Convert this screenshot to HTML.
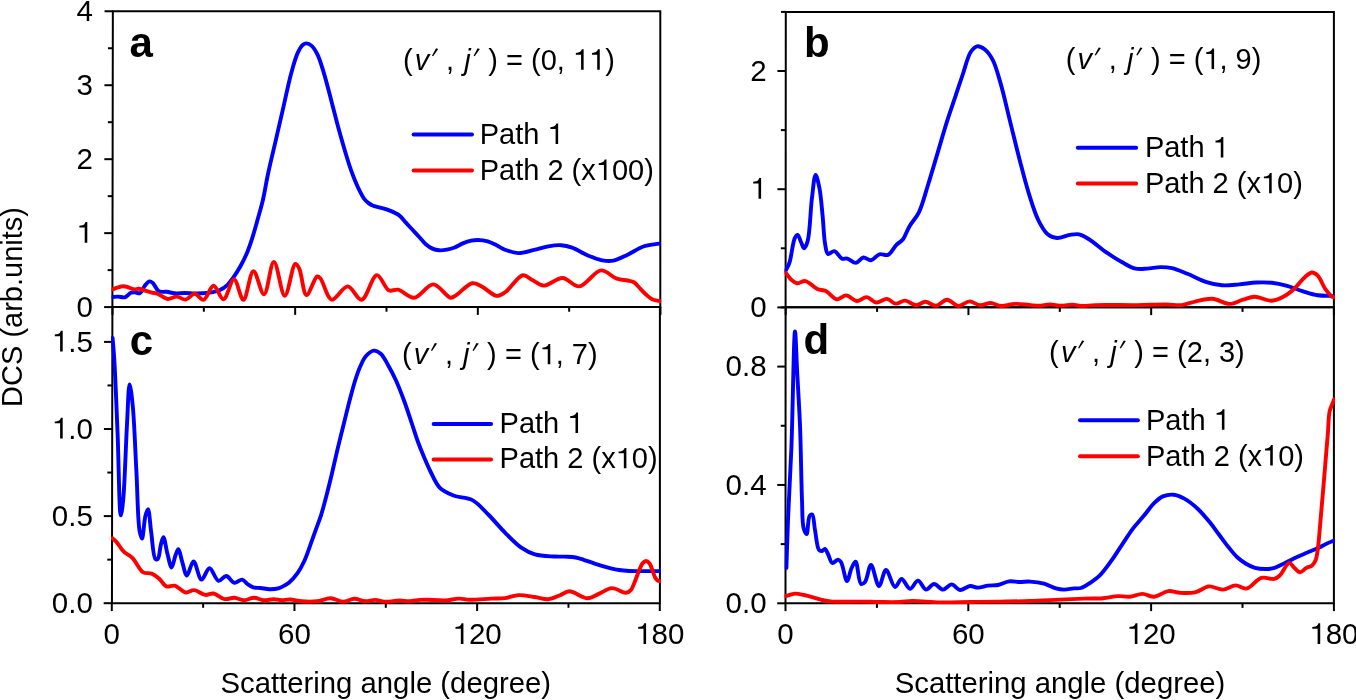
<!DOCTYPE html>
<html><head><meta charset="utf-8"><style>
html,body{margin:0;padding:0;background:#fff;overflow:hidden}
svg{display:block;will-change:transform}
text{font-family:"Liberation Sans",sans-serif;fill:#000;font-kerning:none}
</style></head><body>
<svg width="1356" height="700" viewBox="0 0 1356 700">
<rect width="1356" height="700" fill="#fff"/>
<path d="M112.85,11.25 L660.30,11.25 L660.30,307.10 L112.40,307.10 Z" fill="none" stroke="#000" stroke-width="2.0" stroke-linejoin="miter"/>
<line x1="104.10" y1="307.10" x2="112.40" y2="307.10" stroke="#000" stroke-width="2.0" stroke-linecap="butt"/>
<text x="92.80" y="316.70" text-anchor="end" font-size="29.5" font-weight="normal" >0</text>
<line x1="104.21" y1="233.14" x2="112.51" y2="233.14" stroke="#000" stroke-width="2.0" stroke-linecap="butt"/>
<path d="M87.31,242.74 L87.31,222.00 L85.48,222.00 C85.13,223.86 83.62,225.34 80.82,225.54 L79.37,225.63 L79.37,227.46 L84.71,227.46 L84.71,242.74 Z" fill="#000"/>
<line x1="104.32" y1="159.18" x2="112.62" y2="159.18" stroke="#000" stroke-width="2.0" stroke-linecap="butt"/>
<text x="92.80" y="168.78" text-anchor="end" font-size="29.5" font-weight="normal" >2</text>
<line x1="104.44" y1="85.22" x2="112.74" y2="85.22" stroke="#000" stroke-width="2.0" stroke-linecap="butt"/>
<text x="92.80" y="94.82" text-anchor="end" font-size="29.5" font-weight="normal" >3</text>
<line x1="104.55" y1="11.26" x2="112.85" y2="11.26" stroke="#000" stroke-width="2.0" stroke-linecap="butt"/>
<text x="92.80" y="20.86" text-anchor="end" font-size="29.5" font-weight="normal" >4</text>
<line x1="107.66" y1="270.12" x2="112.46" y2="270.12" stroke="#000" stroke-width="2.0" stroke-linecap="butt"/>
<line x1="107.77" y1="196.16" x2="112.57" y2="196.16" stroke="#000" stroke-width="2.0" stroke-linecap="butt"/>
<line x1="107.88" y1="122.20" x2="112.68" y2="122.20" stroke="#000" stroke-width="2.0" stroke-linecap="butt"/>
<line x1="107.99" y1="48.24" x2="112.79" y2="48.24" stroke="#000" stroke-width="2.0" stroke-linecap="butt"/>
<line x1="112.50" y1="307.10" x2="112.50" y2="314.90" stroke="#000" stroke-width="2.0" stroke-linecap="butt"/>
<line x1="203.83" y1="307.10" x2="203.83" y2="311.70" stroke="#000" stroke-width="2.0" stroke-linecap="butt"/>
<line x1="295.16" y1="307.10" x2="295.16" y2="314.90" stroke="#000" stroke-width="2.0" stroke-linecap="butt"/>
<line x1="386.50" y1="307.10" x2="386.50" y2="311.70" stroke="#000" stroke-width="2.0" stroke-linecap="butt"/>
<line x1="477.83" y1="307.10" x2="477.83" y2="314.90" stroke="#000" stroke-width="2.0" stroke-linecap="butt"/>
<line x1="569.16" y1="307.10" x2="569.16" y2="311.70" stroke="#000" stroke-width="2.0" stroke-linecap="butt"/>
<line x1="660.49" y1="307.10" x2="660.49" y2="314.90" stroke="#000" stroke-width="2.0" stroke-linecap="butt"/>
<path d="M785.80,12.00 L1333.90,12.00 L1333.90,307.30 L785.60,307.30 Z" fill="none" stroke="#000" stroke-width="2.0" stroke-linejoin="miter"/>
<line x1="777.30" y1="307.40" x2="785.60" y2="307.40" stroke="#000" stroke-width="2.0" stroke-linecap="butt"/>
<text x="766.60" y="317.00" text-anchor="end" font-size="29.5" font-weight="normal" >0</text>
<line x1="777.38" y1="189.20" x2="785.68" y2="189.20" stroke="#000" stroke-width="2.0" stroke-linecap="butt"/>
<path d="M761.11,198.80 L761.11,178.06 L759.28,178.06 C758.93,179.92 757.42,181.39 754.62,181.60 L753.17,181.69 L753.17,183.52 L758.51,183.52 L758.51,198.80 Z" fill="#000"/>
<line x1="777.46" y1="71.00" x2="785.76" y2="71.00" stroke="#000" stroke-width="2.0" stroke-linecap="butt"/>
<text x="766.60" y="80.60" text-anchor="end" font-size="29.5" font-weight="normal" >2</text>
<line x1="780.84" y1="248.30" x2="785.64" y2="248.30" stroke="#000" stroke-width="2.0" stroke-linecap="butt"/>
<line x1="780.92" y1="130.10" x2="785.72" y2="130.10" stroke="#000" stroke-width="2.0" stroke-linecap="butt"/>
<line x1="781.00" y1="11.90" x2="785.80" y2="11.90" stroke="#000" stroke-width="2.0" stroke-linecap="butt"/>
<line x1="785.70" y1="307.30" x2="785.70" y2="315.10" stroke="#000" stroke-width="2.0" stroke-linecap="butt"/>
<line x1="877.07" y1="307.30" x2="877.07" y2="311.90" stroke="#000" stroke-width="2.0" stroke-linecap="butt"/>
<line x1="968.44" y1="307.30" x2="968.44" y2="315.10" stroke="#000" stroke-width="2.0" stroke-linecap="butt"/>
<line x1="1059.80" y1="307.30" x2="1059.80" y2="311.90" stroke="#000" stroke-width="2.0" stroke-linecap="butt"/>
<line x1="1151.17" y1="307.30" x2="1151.17" y2="315.10" stroke="#000" stroke-width="2.0" stroke-linecap="butt"/>
<line x1="1242.54" y1="307.30" x2="1242.54" y2="311.90" stroke="#000" stroke-width="2.0" stroke-linecap="butt"/>
<line x1="1333.91" y1="307.30" x2="1333.91" y2="315.10" stroke="#000" stroke-width="2.0" stroke-linecap="butt"/>
<path d="M112.40,307.10 L659.90,307.10 L659.90,603.20 L111.95,603.20 Z" fill="none" stroke="#000" stroke-width="2.0" stroke-linejoin="miter"/>
<line x1="103.65" y1="603.20" x2="111.95" y2="603.20" stroke="#000" stroke-width="2.0" stroke-linecap="butt"/>
<text x="92.80" y="612.80" text-anchor="end" font-size="29.5" font-weight="normal" >0.0</text>
<line x1="103.78" y1="516.10" x2="112.08" y2="516.10" stroke="#000" stroke-width="2.0" stroke-linecap="butt"/>
<text x="92.80" y="525.70" text-anchor="end" font-size="29.5" font-weight="normal" >0.5</text>
<line x1="103.91" y1="429.00" x2="112.21" y2="429.00" stroke="#000" stroke-width="2.0" stroke-linecap="butt"/>
<path d="M62.71,438.60 L62.71,417.86 L60.88,417.86 C60.52,419.72 59.02,421.20 56.22,421.40 L54.77,421.49 L54.77,423.32 L60.11,423.32 L60.11,438.60 Z" fill="#000"/>
<text x="68.20" y="438.60" font-size="29.5" xml:space="preserve">.0</text>
<line x1="104.05" y1="341.90" x2="112.35" y2="341.90" stroke="#000" stroke-width="2.0" stroke-linecap="butt"/>
<path d="M62.71,351.50 L62.71,330.76 L60.88,330.76 C60.52,332.62 59.02,334.10 56.22,334.30 L54.77,334.39 L54.77,336.22 L60.11,336.22 L60.11,351.50 Z" fill="#000"/>
<text x="68.20" y="351.50" font-size="29.5" xml:space="preserve">.5</text>
<line x1="107.22" y1="559.65" x2="112.02" y2="559.65" stroke="#000" stroke-width="2.0" stroke-linecap="butt"/>
<line x1="107.35" y1="472.55" x2="112.15" y2="472.55" stroke="#000" stroke-width="2.0" stroke-linecap="butt"/>
<line x1="107.48" y1="385.45" x2="112.28" y2="385.45" stroke="#000" stroke-width="2.0" stroke-linecap="butt"/>
<line x1="111.80" y1="603.20" x2="111.80" y2="611.00" stroke="#000" stroke-width="2.0" stroke-linecap="butt"/>
<text x="111.80" y="644.00" text-anchor="middle" font-size="29.5" font-weight="normal" >0</text>
<line x1="203.13" y1="603.20" x2="203.13" y2="607.80" stroke="#000" stroke-width="2.0" stroke-linecap="butt"/>
<line x1="294.46" y1="603.20" x2="294.46" y2="611.00" stroke="#000" stroke-width="2.0" stroke-linecap="butt"/>
<text x="294.46" y="644.00" text-anchor="middle" font-size="29.5" font-weight="normal" >60</text>
<line x1="385.80" y1="603.20" x2="385.80" y2="607.80" stroke="#000" stroke-width="2.0" stroke-linecap="butt"/>
<line x1="477.13" y1="603.20" x2="477.13" y2="611.00" stroke="#000" stroke-width="2.0" stroke-linecap="butt"/>
<path d="M463.43,644.00 L463.43,623.26 L461.60,623.26 C461.25,625.12 459.75,626.60 456.94,626.80 L455.50,626.89 L455.50,628.72 L460.84,628.72 L460.84,644.00 Z" fill="#000"/>
<text x="468.92" y="644.00" font-size="29.5" xml:space="preserve">20</text>
<line x1="568.46" y1="603.20" x2="568.46" y2="607.80" stroke="#000" stroke-width="2.0" stroke-linecap="butt"/>
<line x1="659.79" y1="603.20" x2="659.79" y2="611.00" stroke="#000" stroke-width="2.0" stroke-linecap="butt"/>
<path d="M646.10,644.00 L646.10,623.26 L644.27,623.26 C643.91,625.12 642.41,626.60 639.61,626.80 L638.16,626.89 L638.16,628.72 L643.50,628.72 L643.50,644.00 Z" fill="#000"/>
<text x="651.59" y="644.00" font-size="29.5" xml:space="preserve">80</text>
<path d="M785.60,307.30 L1333.90,307.30 L1333.90,603.30 L785.50,603.30 Z" fill="none" stroke="#000" stroke-width="2.0" stroke-linejoin="miter"/>
<line x1="777.20" y1="603.30" x2="785.50" y2="603.30" stroke="#000" stroke-width="2.0" stroke-linecap="butt"/>
<text x="766.60" y="612.90" text-anchor="end" font-size="29.5" font-weight="normal" >0.0</text>
<line x1="777.24" y1="484.94" x2="785.54" y2="484.94" stroke="#000" stroke-width="2.0" stroke-linecap="butt"/>
<text x="766.60" y="494.54" text-anchor="end" font-size="29.5" font-weight="normal" >0.4</text>
<line x1="777.28" y1="366.58" x2="785.58" y2="366.58" stroke="#000" stroke-width="2.0" stroke-linecap="butt"/>
<text x="766.60" y="376.18" text-anchor="end" font-size="29.5" font-weight="normal" >0.8</text>
<line x1="780.72" y1="544.12" x2="785.52" y2="544.12" stroke="#000" stroke-width="2.0" stroke-linecap="butt"/>
<line x1="780.76" y1="425.76" x2="785.56" y2="425.76" stroke="#000" stroke-width="2.0" stroke-linecap="butt"/>
<line x1="780.80" y1="307.40" x2="785.60" y2="307.40" stroke="#000" stroke-width="2.0" stroke-linecap="butt"/>
<line x1="785.50" y1="603.30" x2="785.50" y2="611.10" stroke="#000" stroke-width="2.0" stroke-linecap="butt"/>
<text x="785.50" y="644.00" text-anchor="middle" font-size="29.5" font-weight="normal" >0</text>
<line x1="876.90" y1="603.30" x2="876.90" y2="607.90" stroke="#000" stroke-width="2.0" stroke-linecap="butt"/>
<line x1="968.30" y1="603.30" x2="968.30" y2="611.10" stroke="#000" stroke-width="2.0" stroke-linecap="butt"/>
<text x="968.30" y="644.00" text-anchor="middle" font-size="29.5" font-weight="normal" >60</text>
<line x1="1059.70" y1="603.30" x2="1059.70" y2="607.90" stroke="#000" stroke-width="2.0" stroke-linecap="butt"/>
<line x1="1151.10" y1="603.30" x2="1151.10" y2="611.10" stroke="#000" stroke-width="2.0" stroke-linecap="butt"/>
<path d="M1137.41,644.00 L1137.41,623.26 L1135.58,623.26 C1135.23,625.12 1133.72,626.60 1130.92,626.80 L1129.47,626.89 L1129.47,628.72 L1134.81,628.72 L1134.81,644.00 Z" fill="#000"/>
<text x="1142.90" y="644.00" font-size="29.5" xml:space="preserve">20</text>
<line x1="1242.51" y1="603.30" x2="1242.51" y2="607.90" stroke="#000" stroke-width="2.0" stroke-linecap="butt"/>
<line x1="1333.91" y1="603.30" x2="1333.91" y2="611.10" stroke="#000" stroke-width="2.0" stroke-linecap="butt"/>
<path d="M1320.21,644.00 L1320.21,623.26 L1318.38,623.26 C1318.03,625.12 1316.52,626.60 1313.72,626.80 L1312.28,626.89 L1312.28,628.72 L1317.62,628.72 L1317.62,644.00 Z" fill="#000"/>
<text x="1325.70" y="644.00" font-size="29.5" xml:space="preserve">80</text>
<defs><clipPath id="cpa"><rect x="111.5" y="10" width="549.8" height="298"/></clipPath><clipPath id="cpb"><rect x="784.5" y="11" width="550.5" height="297.3"/></clipPath><clipPath id="cpc"><rect x="111" y="306" width="550" height="298.20000000000005"/></clipPath><clipPath id="cpd"><rect x="784.5" y="306.3" width="550.5" height="297.99999999999994"/></clipPath></defs>
<g clip-path="url(#cpa)">
<path d="M112.60,297.00 C114.40,296.87 116.09,296.57 118.00,296.60 C120.16,296.63 122.78,297.89 124.90,297.30 C127.10,296.69 129.00,293.57 130.90,292.80 C132.29,292.24 133.50,292.25 134.90,292.30 C136.48,292.36 138.42,293.92 139.90,293.30 C141.86,292.48 143.08,287.89 144.80,285.80 C146.24,284.05 147.80,281.68 149.30,281.40 C150.47,281.18 151.62,281.95 152.80,282.90 C154.75,284.47 156.26,289.89 158.80,291.30 C161.02,292.53 164.07,291.47 166.70,291.80 C169.37,292.13 171.87,293.08 174.70,293.30 C177.84,293.54 181.38,292.98 184.70,293.00 C188.01,293.02 191.48,293.36 194.60,293.40 C197.41,293.44 199.86,293.47 202.60,293.30 C205.52,293.12 208.72,292.82 211.60,292.30 C214.34,291.80 216.96,291.45 219.50,290.30 C222.27,289.04 225.16,286.99 227.50,284.80 C229.86,282.60 231.57,279.98 233.60,277.10 C235.97,273.73 238.54,269.55 240.70,265.70 C242.80,261.95 244.61,258.46 246.40,254.30 C248.45,249.54 250.28,244.18 252.10,238.60 C254.13,232.37 256.07,225.15 257.90,218.60 C259.66,212.30 261.33,206.75 262.90,200.00 C264.74,192.09 266.04,183.19 268.00,174.00 C270.23,163.55 273.14,151.74 275.70,140.60 C278.27,129.44 280.83,118.26 283.40,107.10 C285.96,95.96 288.44,83.45 291.10,73.70 C293.21,65.96 295.21,58.30 297.60,53.10 C299.20,49.62 300.83,46.44 302.70,44.90 C303.93,43.88 305.23,43.34 306.60,43.40 C308.20,43.47 310.12,44.52 311.70,45.90 C313.82,47.75 315.67,50.96 317.40,54.40 C319.67,58.92 321.32,64.76 323.30,71.10 C325.85,79.26 328.46,89.85 331.00,99.40 C333.59,109.15 335.96,119.04 338.70,129.00 C341.52,139.23 345.36,152.46 347.70,160.00 C349.06,164.37 349.85,166.82 351.10,170.30 C352.41,173.95 353.92,177.86 355.40,181.40 C356.79,184.71 358.20,187.93 359.70,190.90 C361.08,193.63 362.41,196.49 364.00,198.60 C365.32,200.35 366.79,201.72 368.30,202.90 C369.67,203.97 370.90,204.77 372.60,205.50 C374.74,206.42 377.61,206.81 380.30,207.60 C383.29,208.48 386.61,209.33 389.70,210.60 C392.91,211.91 396.46,213.34 399.20,215.40 C401.83,217.38 403.68,220.20 405.90,222.60 C408.11,225.00 410.29,227.40 412.50,229.80 C414.72,232.20 416.98,234.60 419.20,237.00 C421.41,239.40 423.47,242.21 425.80,244.20 C427.90,246.00 430.10,247.58 432.40,248.60 C434.55,249.55 436.77,250.10 439.10,250.30 C441.56,250.51 444.25,250.15 446.80,249.70 C449.41,249.23 451.97,248.52 454.60,247.50 C457.50,246.38 460.51,244.26 463.40,243.10 C466.03,242.04 468.68,241.22 471.20,240.70 C473.47,240.24 475.38,239.96 477.80,240.00 C480.77,240.05 484.55,240.50 487.70,241.40 C490.81,242.28 493.70,243.91 496.60,245.30 C499.46,246.68 501.80,248.47 505.00,249.70 C508.83,251.17 513.59,252.98 518.20,253.10 C523.22,253.23 528.88,251.06 534.00,249.90 C538.90,248.79 543.64,247.08 548.30,246.30 C552.63,245.57 556.93,244.94 561.00,245.20 C564.84,245.44 568.17,246.22 572.10,247.60 C577.00,249.33 582.69,253.34 587.90,255.50 C592.71,257.50 597.68,259.50 602.20,260.30 C606.08,260.99 609.44,261.31 613.30,260.60 C617.85,259.76 622.76,256.95 627.60,254.70 C632.79,252.29 637.98,248.35 643.40,246.50 C648.56,244.73 654.00,244.57 659.30,243.60" fill="none" stroke="#0000ff" stroke-width="3.9" stroke-linejoin="round" stroke-linecap="round"/>
<path d="M112.60,289.30 C114.40,288.63 116.18,287.80 118.00,287.30 C119.78,286.81 121.73,286.31 123.40,286.30 C124.83,286.29 125.92,286.61 127.40,287.00 C129.32,287.50 131.85,289.05 133.90,289.30 C135.65,289.51 137.25,288.64 138.90,288.80 C140.58,288.96 142.04,289.75 143.90,290.30 C146.23,290.99 149.34,292.00 151.80,292.60 C153.93,293.12 155.61,293.02 157.80,293.80 C160.76,294.85 164.41,298.63 167.70,299.00 C170.71,299.34 173.71,296.51 176.70,296.60 C179.71,296.69 182.80,299.97 185.70,299.60 C188.77,299.20 191.63,293.78 194.60,293.80 C197.60,293.82 200.77,300.33 203.60,299.80 C207.17,299.14 210.17,285.84 213.50,285.80 C216.80,285.76 220.31,299.54 223.50,299.30 C227.19,299.02 230.68,279.31 234.00,279.40 C237.32,279.49 240.39,299.94 243.40,299.80 C246.90,299.63 249.80,271.37 253.40,271.20 C256.71,271.05 260.78,294.61 264.00,294.40 C267.72,294.15 270.47,261.93 273.90,261.90 C277.40,261.87 281.18,295.69 284.80,295.70 C288.31,295.71 292.11,264.52 295.30,263.90 C296.66,263.64 297.95,266.14 299.20,268.50 C301.87,273.55 303.21,294.58 306.50,295.00 C309.40,295.37 314.32,277.24 317.20,276.50 C318.42,276.19 319.28,277.21 320.50,278.50 C323.54,281.71 327.03,298.77 331.80,299.70 C336.23,300.56 342.65,286.23 347.70,286.40 C352.57,286.56 357.18,300.26 361.60,299.70 C367.02,299.02 371.92,275.37 376.90,275.10 C380.98,274.88 384.63,288.52 388.90,290.40 C391.84,291.69 394.71,289.04 398.10,289.70 C402.81,290.63 408.64,298.09 414.10,297.70 C420.34,297.26 427.12,284.25 433.30,284.40 C439.27,284.55 446.28,297.21 450.60,297.70 C452.92,297.96 454.01,296.46 456.30,295.10 C460.37,292.69 467.39,283.97 472.20,283.20 C475.62,282.65 478.27,284.77 481.70,286.40 C486.27,288.57 492.38,295.59 496.80,295.90 C500.03,296.13 502.31,294.15 505.50,292.00 C510.57,288.58 517.72,276.07 522.90,275.30 C526.34,274.79 529.11,278.45 532.40,280.10 C535.95,281.88 539.26,285.43 543.50,285.60 C548.97,285.82 556.52,277.73 562.60,278.00 C568.39,278.26 573.44,286.88 579.20,286.40 C586.14,285.83 594.17,270.91 601.00,270.40 C606.55,269.98 611.88,277.05 616.80,278.70 C620.69,280.00 624.69,279.79 627.80,280.50 C630.15,281.04 632.00,281.17 633.90,282.30 C636.11,283.62 637.98,286.36 640.00,288.40 C642.01,290.43 643.93,292.66 646.00,294.50 C647.97,296.24 649.82,298.09 652.10,299.20 C654.41,300.33 657.23,300.53 659.80,301.20" fill="none" stroke="#ff0000" stroke-width="3.9" stroke-linejoin="round" stroke-linecap="round"/>
</g>
<g clip-path="url(#cpb)">
<path d="M785.80,270.40 C787.00,267.90 788.26,266.21 789.40,262.90 C791.39,257.13 792.66,242.44 794.80,238.20 C795.68,236.46 796.70,234.88 797.60,235.00 C798.86,235.17 800.07,240.16 801.20,242.50 C802.19,244.56 802.99,248.28 804.00,248.30 C805.11,248.32 806.58,244.82 807.60,241.40 C810.01,233.35 810.34,210.74 811.90,198.60 C813.06,189.55 814.11,175.10 815.60,175.00 C816.72,174.93 818.35,182.73 819.40,187.90 C820.92,195.36 821.64,206.34 822.60,215.70 C823.58,225.23 823.86,237.67 825.20,244.60 C825.98,248.61 826.21,253.07 828.00,253.90 C829.52,254.60 832.31,250.71 834.40,251.10 C836.97,251.59 839.39,257.56 841.90,258.60 C843.69,259.34 845.35,258.14 847.30,258.60 C849.90,259.21 853.19,263.12 855.90,262.90 C858.55,262.69 860.80,257.85 863.40,257.50 C865.82,257.18 868.41,260.62 870.90,260.30 C873.74,259.93 876.40,255.14 879.40,254.30 C882.13,253.54 885.39,256.01 888.00,254.90 C891.26,253.51 893.82,247.37 896.60,244.60 C898.79,242.42 901.09,241.71 903.00,239.30 C905.52,236.12 906.89,230.71 909.40,226.40 C912.12,221.71 916.08,218.04 918.90,212.30 C922.64,204.69 925.24,193.70 928.30,184.00 C931.51,173.83 934.57,163.08 937.70,152.60 C940.84,142.11 944.02,130.81 947.10,121.10 C949.77,112.67 952.37,105.44 955.00,97.60 C957.64,89.74 960.24,81.72 962.90,74.00 C965.48,66.53 967.55,56.72 970.70,52.00 C972.60,49.15 974.64,46.72 977.00,46.30 C979.37,45.88 982.50,47.65 984.90,49.50 C987.86,51.78 990.39,55.51 992.70,59.90 C995.89,65.97 998.02,74.59 1000.60,83.40 C1003.82,94.43 1006.87,108.52 1010.00,121.10 C1013.14,133.69 1016.20,146.61 1019.40,158.90 C1022.47,170.68 1025.44,182.70 1028.80,193.40 C1031.79,202.93 1034.64,212.77 1038.30,220.10 C1041.14,225.78 1044.04,231.34 1047.70,234.30 C1050.52,236.58 1053.70,237.77 1057.10,238.00 C1060.96,238.26 1065.78,235.50 1069.70,234.90 C1073.04,234.39 1076.04,233.69 1079.10,234.30 C1082.35,234.95 1085.04,236.81 1088.60,239.00 C1093.82,242.22 1100.90,248.65 1106.80,252.70 C1112.07,256.31 1117.17,259.56 1122.20,262.30 C1126.75,264.78 1131.20,267.62 1135.60,268.60 C1139.48,269.47 1143.13,268.82 1147.10,268.60 C1151.40,268.36 1156.20,267.15 1160.50,267.10 C1164.48,267.05 1167.95,267.19 1172.00,268.10 C1176.83,269.18 1182.01,271.64 1187.40,273.80 C1193.48,276.24 1200.47,280.16 1206.60,282.10 C1211.90,283.78 1216.62,284.89 1221.90,285.30 C1227.46,285.73 1233.45,284.87 1239.20,284.40 C1244.95,283.93 1250.82,282.75 1256.40,282.50 C1261.67,282.26 1266.70,282.24 1271.80,282.80 C1276.93,283.37 1282.04,284.53 1287.10,285.90 C1292.24,287.29 1297.27,289.53 1302.40,291.10 C1307.50,292.66 1312.63,294.50 1317.80,295.30 C1322.86,296.08 1328.00,295.70 1333.10,295.90" fill="none" stroke="#0000ff" stroke-width="3.9" stroke-linejoin="round" stroke-linecap="round"/>
<path d="M785.80,273.10 C787.73,275.40 789.56,278.25 791.60,280.00 C793.29,281.45 794.85,282.89 796.90,283.20 C799.36,283.58 802.53,280.57 805.50,281.10 C809.26,281.77 813.54,287.34 817.30,289.00 C820.27,290.31 823.02,289.72 825.90,291.10 C829.45,292.80 832.99,298.81 836.60,299.30 C839.77,299.73 842.95,295.24 846.20,295.40 C849.71,295.57 853.38,300.82 856.90,301.00 C860.17,301.16 863.42,296.89 866.60,297.10 C869.86,297.31 872.84,302.18 876.20,302.50 C879.60,302.82 883.59,298.61 886.90,298.90 C889.99,299.17 892.49,303.30 895.50,303.60 C898.55,303.90 901.81,300.44 905.10,300.60 C908.72,300.77 912.75,305.25 916.30,305.30 C919.48,305.35 922.26,301.81 925.40,301.80 C928.77,301.79 932.40,306.04 935.90,305.80 C939.63,305.55 943.37,299.67 947.10,299.70 C950.84,299.73 954.51,305.77 958.30,306.00 C961.98,306.23 965.80,301.47 969.50,301.40 C973.07,301.33 976.54,305.06 980.10,305.30 C983.57,305.54 987.11,302.89 990.60,303.00 C994.11,303.11 997.32,305.76 1001.10,306.00 C1005.40,306.28 1010.42,304.08 1015.10,303.90 C1019.76,303.72 1024.85,304.55 1029.10,304.90 C1032.66,305.19 1035.53,305.86 1038.90,305.80 C1042.51,305.74 1046.37,304.40 1050.10,304.40 C1053.83,304.40 1057.56,305.77 1061.30,305.80 C1065.03,305.83 1068.90,304.54 1072.50,304.60 C1075.88,304.66 1078.80,305.87 1082.30,306.00 C1086.32,306.15 1089.72,305.29 1095.30,305.10 C1105.34,304.75 1124.77,305.23 1137.50,305.10 C1148.01,304.99 1158.21,304.43 1166.30,304.50 C1172.20,304.55 1176.70,305.63 1181.60,305.10 C1186.28,304.60 1190.30,302.61 1195.10,301.60 C1200.46,300.47 1206.60,298.44 1212.30,298.80 C1218.10,299.16 1224.21,303.95 1229.60,303.90 C1234.36,303.86 1238.69,300.92 1243.00,299.70 C1246.96,298.58 1250.27,296.85 1254.50,296.80 C1259.67,296.73 1266.65,300.97 1271.80,300.70 C1276.06,300.48 1279.61,298.74 1283.30,296.80 C1287.31,294.69 1291.29,291.40 1294.80,288.20 C1298.29,285.03 1301.13,280.45 1304.30,277.70 C1306.87,275.47 1309.58,272.61 1312.00,272.50 C1314.04,272.41 1315.98,273.89 1317.80,275.70 C1320.59,278.47 1322.85,285.58 1325.40,289.20 C1327.33,291.94 1329.55,294.54 1331.20,295.90 C1332.16,296.69 1332.93,296.90 1333.80,297.40" fill="none" stroke="#ff0000" stroke-width="3.9" stroke-linejoin="round" stroke-linecap="round"/>
</g>
<g clip-path="url(#cpc)">
<path d="M112.60,337.90 C113.20,345.73 113.80,351.42 114.40,361.40 C115.46,378.90 116.56,408.86 117.60,433.70 C118.70,460.10 119.21,515.31 120.80,515.40 C121.50,515.44 122.47,506.91 123.20,499.70 C124.79,483.97 125.78,445.45 127.00,424.30 C127.89,408.93 128.41,384.55 129.60,384.50 C130.46,384.46 131.79,396.46 132.70,405.40 C134.31,421.22 135.22,449.95 136.40,471.40 C137.52,491.80 137.69,520.80 139.60,531.10 C140.29,534.82 141.25,538.56 142.00,538.50 C143.28,538.39 144.01,521.27 145.40,516.00 C146.19,513.02 147.23,509.11 148.00,509.20 C149.38,509.36 150.02,524.33 151.20,532.30 C152.47,540.88 153.01,556.96 155.40,559.00 C156.11,559.61 157.11,559.56 157.80,559.00 C159.52,557.61 159.79,548.40 160.90,544.40 C161.70,541.52 162.54,537.06 163.40,537.10 C164.70,537.16 166.05,548.79 167.50,554.10 C168.80,558.85 170.24,567.49 171.60,567.50 C172.90,567.51 174.18,558.61 175.50,555.30 C176.45,552.91 177.46,549.23 178.40,549.30 C179.69,549.40 180.75,557.22 182.10,561.40 C183.56,565.93 185.03,575.40 186.90,575.50 C188.81,575.61 191.22,561.37 193.50,561.40 C196.07,561.43 198.55,579.31 201.50,579.60 C203.97,579.84 206.75,568.21 209.50,568.20 C212.40,568.19 215.28,580.15 218.50,580.80 C220.97,581.30 223.75,575.80 226.30,576.00 C229.03,576.21 231.50,582.35 234.30,582.80 C236.82,583.21 239.93,579.24 242.20,579.60 C244.23,579.92 245.55,582.70 247.40,584.00 C249.25,585.30 251.15,586.73 253.30,587.40 C255.53,588.10 258.05,587.72 260.60,588.00 C263.42,588.31 266.54,589.14 269.50,589.20 C272.44,589.26 275.63,589.13 278.30,588.40 C280.75,587.73 283.09,586.24 285.00,585.20 C286.50,584.38 287.44,584.02 288.90,582.80 C291.38,580.72 295.14,576.53 297.70,572.90 C300.32,569.18 302.41,565.01 304.40,560.70 C306.50,556.17 308.10,551.20 309.90,546.30 C311.76,541.24 313.55,535.96 315.40,530.80 C317.25,525.63 319.24,520.83 321.00,515.30 C322.97,509.12 324.71,502.23 326.50,495.40 C328.38,488.21 330.19,480.77 332.00,473.20 C333.89,465.29 335.64,457.12 337.60,448.90 C339.63,440.40 341.90,431.47 344.00,423.00 C346.03,414.85 348.04,406.41 350.00,399.00 C351.70,392.56 353.23,386.59 355.00,381.00 C356.58,376.01 358.07,371.32 360.00,367.00 C361.78,363.04 363.45,358.81 366.00,356.00 C368.24,353.54 371.37,350.79 374.00,350.60 C376.36,350.43 378.90,352.13 381.00,354.00 C383.72,356.43 385.68,360.96 388.00,365.00 C390.68,369.67 393.46,374.94 396.00,380.50 C398.82,386.68 401.42,393.53 404.00,400.50 C406.77,407.98 409.54,416.68 412.00,424.00 C414.15,430.40 415.91,436.30 418.00,442.00 C419.93,447.26 421.95,452.15 424.00,457.00 C425.96,461.64 427.61,465.78 430.00,470.50 C432.78,476.00 435.63,483.65 439.90,487.90 C443.65,491.64 448.36,493.52 453.40,495.50 C459.06,497.73 466.66,497.04 472.40,500.10 C478.50,503.35 483.37,509.71 488.70,515.00 C494.25,520.51 499.45,527.07 505.00,532.60 C510.33,537.91 515.85,543.84 521.30,547.60 C525.82,550.72 529.84,552.91 534.90,554.40 C540.57,556.07 548.04,556.14 553.90,556.50 C558.91,556.81 563.92,556.47 567.90,556.70 C570.88,556.87 573.11,557.00 575.70,557.50 C578.35,558.02 580.71,558.89 583.60,559.80 C587.15,560.92 591.45,562.55 595.40,563.80 C599.32,565.05 603.25,566.26 607.20,567.30 C611.12,568.33 615.19,569.38 619.00,570.00 C622.51,570.57 625.51,570.81 629.20,571.00 C633.54,571.23 638.50,571.08 643.40,571.10 C648.65,571.12 654.27,571.10 659.70,571.10" fill="none" stroke="#0000ff" stroke-width="3.9" stroke-linejoin="round" stroke-linecap="round"/>
<path d="M112.60,538.30 C113.90,539.53 115.07,540.40 116.50,542.00 C118.65,544.40 121.05,549.01 123.80,551.70 C126.36,554.20 129.50,555.06 132.30,557.80 C135.99,561.41 139.28,569.96 143.20,572.30 C145.90,573.91 149.08,572.59 151.70,573.60 C154.35,574.62 156.68,576.42 159.00,578.40 C161.58,580.60 163.46,585.29 166.30,586.40 C168.82,587.39 171.91,585.00 174.80,585.70 C178.35,586.56 182.18,592.00 185.70,592.50 C188.61,592.91 191.23,589.89 194.20,590.10 C197.65,590.34 201.63,594.46 205.10,594.90 C208.05,595.27 210.66,593.04 213.60,593.50 C217.12,594.05 220.95,598.48 224.60,599.10 C227.85,599.65 231.09,597.61 234.30,597.80 C237.55,597.99 240.74,600.30 244.00,600.30 C247.31,600.30 250.70,597.70 254.00,597.70 C257.23,597.70 260.32,599.94 263.60,600.20 C266.95,600.47 270.75,599.14 273.90,599.20 C276.57,599.25 278.72,600.13 281.30,600.20 C284.10,600.28 286.96,599.39 290.10,599.50 C293.75,599.63 297.73,600.98 301.90,601.30 C306.54,601.65 311.86,601.81 316.70,601.30 C321.46,600.80 326.18,598.18 330.70,598.30 C335.00,598.42 339.15,601.68 343.20,601.70 C347.01,601.72 350.59,598.86 354.30,598.80 C357.99,598.74 361.82,601.16 365.40,601.30 C368.70,601.43 371.69,599.87 375.00,599.90 C378.54,599.93 382.15,601.56 386.00,601.70 C390.21,601.85 395.15,600.53 399.30,600.50 C402.95,600.48 406.17,601.40 409.60,601.30 C413.04,601.20 416.87,600.15 419.90,599.90 C422.28,599.70 423.60,599.69 426.30,599.70 C430.95,599.73 439.51,600.78 445.30,600.50 C450.22,600.26 454.62,598.68 458.90,598.60 C462.70,598.53 465.47,599.59 469.70,599.70 C475.68,599.85 485.01,598.88 491.40,598.60 C496.46,598.38 500.49,598.68 505.00,598.10 C509.56,597.52 513.84,595.34 518.60,595.10 C523.77,594.84 529.73,596.28 534.90,597.00 C539.62,597.66 544.11,599.57 548.40,599.20 C552.46,598.85 556.36,596.58 560.00,595.20 C563.32,593.94 565.75,591.34 569.40,591.30 C574.44,591.24 582.11,598.33 587.50,598.30 C591.86,598.28 595.32,595.26 599.30,593.60 C603.45,591.87 607.54,588.30 611.90,588.10 C616.43,587.90 622.59,593.13 626.00,592.80 C628.08,592.60 629.41,591.61 630.80,590.10 C632.79,587.94 634.06,583.32 635.50,579.90 C636.92,576.52 638.11,572.67 639.40,569.70 C640.44,567.32 641.19,564.89 642.50,563.40 C643.53,562.23 644.91,560.99 646.10,561.00 C647.28,561.01 648.60,562.17 649.60,563.40 C651.00,565.14 651.84,568.73 652.80,571.20 C653.65,573.40 654.15,575.88 655.10,577.50 C655.80,578.70 656.65,579.70 657.50,580.30 C658.17,580.77 658.90,580.83 659.60,581.10" fill="none" stroke="#ff0000" stroke-width="3.9" stroke-linejoin="round" stroke-linecap="round"/>
</g>
<g clip-path="url(#cpd)">
<path d="M786.40,567.90 C786.93,551.93 787.29,537.59 788.00,520.00 C788.87,498.43 790.35,474.88 791.40,448.00 C792.74,413.80 793.80,331.41 795.00,331.40 C795.70,331.39 796.34,356.37 797.10,370.70 C798.01,387.98 799.31,407.73 800.10,427.90 C800.99,450.54 801.23,481.55 802.00,500.00 C802.48,511.50 802.05,522.19 803.60,528.00 C804.36,530.84 805.75,534.13 806.60,534.00 C808.00,533.79 807.79,518.61 809.60,516.00 C810.33,514.94 811.47,514.16 812.20,514.50 C813.87,515.27 813.96,524.51 815.00,530.00 C816.19,536.25 816.80,547.51 819.00,550.00 C819.87,550.98 821.03,551.13 822.00,551.00 C823.04,550.86 824.09,548.80 825.00,549.00 C826.15,549.26 826.95,552.06 828.00,554.00 C829.38,556.54 830.47,562.43 832.40,563.00 C833.96,563.46 836.45,559.50 838.00,559.60 C839.19,559.68 840.04,560.60 841.00,562.00 C843.19,565.20 845.09,580.97 847.00,581.00 C848.59,581.03 849.91,571.50 851.60,568.00 C852.85,565.41 854.38,561.40 855.60,561.60 C857.74,561.95 858.35,582.77 861.00,584.00 C862.17,584.54 863.78,583.38 865.00,582.00 C867.45,579.22 868.82,565.03 871.00,565.00 C873.44,564.97 876.34,585.94 879.00,586.00 C881.34,586.06 883.41,570.10 886.00,570.00 C888.72,569.90 892.00,586.69 895.00,587.00 C897.20,587.22 899.25,579.02 901.60,579.00 C904.22,578.98 907.18,588.71 910.00,588.80 C912.65,588.89 915.37,580.54 918.00,580.60 C920.70,580.66 923.18,589.27 926.00,589.60 C928.54,589.90 931.23,584.08 934.00,584.00 C936.89,583.92 940.03,589.58 943.00,589.60 C945.89,589.62 948.77,584.34 951.60,584.40 C954.44,584.46 956.99,589.69 960.00,590.00 C963.11,590.32 966.81,586.29 970.00,586.00 C972.78,585.75 975.18,587.60 978.00,587.60 C981.15,587.60 984.65,586.03 988.00,585.60 C991.32,585.17 994.63,585.64 998.00,585.00 C1001.62,584.31 1005.29,581.89 1009.00,581.40 C1012.62,580.92 1016.42,581.97 1020.00,582.00 C1023.41,582.02 1026.40,581.42 1030.00,581.60 C1034.28,581.82 1039.58,582.42 1044.00,583.60 C1048.23,584.73 1052.35,587.41 1056.00,588.40 C1058.89,589.18 1061.18,589.56 1064.00,589.60 C1067.14,589.65 1070.96,588.67 1074.00,588.40 C1076.54,588.18 1078.60,588.69 1081.00,588.00 C1083.91,587.16 1087.02,584.95 1090.00,583.00 C1093.22,580.89 1096.43,578.82 1099.60,575.70 C1103.58,571.78 1107.66,565.87 1111.40,560.70 C1115.16,555.50 1118.52,549.95 1122.10,544.60 C1125.68,539.25 1129.16,533.51 1132.90,528.60 C1136.35,524.07 1140.06,520.35 1143.60,516.10 C1147.20,511.78 1150.72,506.36 1154.30,502.90 C1157.16,500.14 1159.69,497.77 1162.90,496.40 C1166.12,495.03 1170.08,494.36 1173.60,494.70 C1177.21,495.05 1180.72,496.66 1184.30,498.60 C1188.55,500.90 1193.00,504.45 1197.10,508.20 C1201.60,512.31 1206.18,517.86 1210.00,522.50 C1213.37,526.60 1216.00,530.50 1219.00,534.50 C1222.00,538.50 1224.94,542.68 1228.00,546.50 C1230.94,550.17 1233.83,554.04 1237.00,557.00 C1239.86,559.67 1242.90,561.87 1246.00,563.70 C1248.91,565.42 1251.81,566.92 1255.00,567.80 C1258.30,568.71 1262.14,569.03 1265.50,569.00 C1268.62,568.97 1271.45,568.68 1274.50,567.80 C1277.94,566.81 1281.40,564.72 1285.00,563.00 C1288.88,561.14 1293.11,558.81 1297.00,557.00 C1300.59,555.33 1304.00,554.00 1307.50,552.50 C1311.00,551.00 1314.66,549.55 1318.00,548.00 C1321.14,546.54 1324.17,544.81 1327.00,543.50 C1329.46,542.36 1331.67,541.50 1334.00,540.50" fill="none" stroke="#0000ff" stroke-width="3.9" stroke-linejoin="round" stroke-linecap="round"/>
<path d="M786.00,596.00 C789.00,595.20 791.98,593.76 795.00,593.60 C797.98,593.44 800.94,594.37 804.00,595.00 C807.26,595.68 810.86,596.72 814.00,597.60 C816.82,598.39 819.16,599.35 822.00,600.00 C825.13,600.72 827.81,601.27 832.00,601.60 C838.97,602.15 851.45,601.51 860.00,601.60 C867.23,601.67 873.33,601.93 880.00,602.00 C886.67,602.07 894.18,602.24 900.00,602.00 C904.51,601.81 907.16,601.08 912.00,601.00 C919.38,600.88 930.50,602.23 940.00,602.40 C949.82,602.58 960.00,602.13 970.00,602.00 C980.00,601.87 990.00,601.77 1000.00,601.60 C1010.00,601.43 1020.00,601.33 1030.00,601.00 C1040.00,600.67 1050.56,600.02 1060.00,599.60 C1068.45,599.23 1076.48,598.84 1084.00,598.60 C1090.67,598.39 1096.98,598.68 1102.90,598.20 C1108.20,597.77 1113.20,596.31 1117.90,596.10 C1122.03,595.92 1125.63,597.02 1129.60,596.70 C1133.82,596.36 1138.30,593.86 1142.50,593.90 C1146.53,593.94 1150.26,597.00 1154.30,596.70 C1158.80,596.36 1163.68,591.64 1168.20,591.10 C1172.23,590.61 1175.82,592.56 1180.00,592.80 C1184.69,593.07 1190.19,593.46 1195.00,592.40 C1199.83,591.34 1204.20,586.83 1208.90,586.40 C1213.47,585.99 1218.28,589.80 1222.80,589.60 C1227.21,589.40 1231.59,585.45 1235.70,585.40 C1239.43,585.35 1242.69,589.22 1246.40,588.60 C1251.16,587.81 1256.33,579.31 1261.40,577.90 C1265.65,576.72 1271.03,579.68 1274.30,578.90 C1276.56,578.36 1277.74,577.37 1279.60,575.70 C1282.59,573.01 1286.55,563.10 1289.30,562.90 C1291.06,562.77 1292.30,565.99 1294.00,567.50 C1295.84,569.13 1297.94,572.23 1300.00,572.30 C1302.07,572.38 1304.27,569.07 1306.40,567.90 C1308.30,566.86 1310.56,566.78 1312.10,565.50 C1313.69,564.18 1314.82,562.13 1315.70,560.00 C1316.72,557.53 1317.00,554.54 1317.50,551.40 C1318.10,547.66 1318.40,544.00 1318.90,539.00 C1319.66,531.36 1320.56,519.75 1321.40,510.00 C1322.26,500.08 1323.19,489.61 1324.00,480.00 C1324.75,471.10 1325.42,462.47 1326.10,454.30 C1326.72,446.84 1327.32,440.04 1327.90,432.90 C1328.48,425.74 1328.49,416.53 1329.60,411.40 C1330.25,408.41 1331.31,406.60 1332.10,404.50 C1332.77,402.72 1333.37,401.23 1334.00,399.60" fill="none" stroke="#ff0000" stroke-width="3.9" stroke-linejoin="round" stroke-linecap="round"/>
</g>
<text x="129.60" y="57.00" text-anchor="start" font-size="42" font-weight="bold" >a</text>
<text x="803.90" y="57.00" text-anchor="start" font-size="42" font-weight="bold" >b</text>
<text x="129.80" y="354.50" text-anchor="start" font-size="42" font-weight="bold" >c</text>
<text x="803.50" y="354.00" text-anchor="start" font-size="42" font-weight="bold" >d</text>
<text x="403.00" y="69.70" text-anchor="start" font-size="29" font-weight="normal" >(</text>
<text x="414.80" y="69.70" text-anchor="start" font-size="29" font-weight="normal" font-style="italic">v</text>
<path d="M436.00,48.30 L438.20,48.90 L433.10,56.30 L432.00,55.80 Z" fill="#000"/>
<text x="446.00" y="69.70" text-anchor="start" font-size="29" font-weight="normal" >,</text>
<text x="464.20" y="69.70" text-anchor="start" font-size="29" font-weight="normal" font-style="italic">j</text>
<path d="M477.60,48.30 L479.80,48.90 L474.70,56.30 L473.60,55.80 Z" fill="#000"/>
<text x="488.20" y="69.70" text-anchor="start" font-size="29" font-weight="normal" >)</text>
<text x="506.00" y="69.70" text-anchor="start" font-size="29" font-weight="normal" >=</text>
<text x="531.00" y="69.70" font-size="29" xml:space="preserve">(0, </text>
<path d="M583.63,69.70 L583.63,49.31 L581.83,49.31 C581.48,51.14 580.00,52.59 577.25,52.79 L575.83,52.88 L575.83,54.68 L581.08,54.68 L581.08,69.70 Z" fill="#000"/>
<path d="M599.76,69.70 L599.76,49.31 L597.96,49.31 C597.61,51.14 596.13,52.59 593.38,52.79 L591.96,52.88 L591.96,54.68 L597.21,54.68 L597.21,69.70 Z" fill="#000"/>
<text x="605.16" y="69.70" font-size="29" xml:space="preserve">)</text>
<text x="1065.70" y="68.90" text-anchor="start" font-size="29" font-weight="normal" >(</text>
<text x="1077.50" y="68.90" text-anchor="start" font-size="29" font-weight="normal" font-style="italic">v</text>
<path d="M1098.70,47.50 L1100.90,48.10 L1095.80,55.50 L1094.70,55.00 Z" fill="#000"/>
<text x="1108.70" y="68.90" text-anchor="start" font-size="29" font-weight="normal" >,</text>
<text x="1126.90" y="68.90" text-anchor="start" font-size="29" font-weight="normal" font-style="italic">j</text>
<path d="M1140.30,47.50 L1142.50,48.10 L1137.40,55.50 L1136.30,55.00 Z" fill="#000"/>
<text x="1150.90" y="68.90" text-anchor="start" font-size="29" font-weight="normal" >)</text>
<text x="1168.70" y="68.90" text-anchor="start" font-size="29" font-weight="normal" >=</text>
<text x="1193.70" y="68.90" font-size="29" xml:space="preserve">(</text>
<path d="M1214.09,68.90 L1214.09,48.51 L1212.29,48.51 C1211.94,50.34 1210.46,51.79 1207.71,51.99 L1206.29,52.08 L1206.29,53.88 L1211.54,53.88 L1211.54,68.90 Z" fill="#000"/>
<text x="1219.49" y="68.90" font-size="29" xml:space="preserve">, 9)</text>
<text x="401.90" y="364.30" text-anchor="start" font-size="29" font-weight="normal" >(</text>
<text x="413.70" y="364.30" text-anchor="start" font-size="29" font-weight="normal" font-style="italic">v</text>
<path d="M434.90,342.90 L437.10,343.50 L432.00,350.90 L430.90,350.40 Z" fill="#000"/>
<text x="444.90" y="364.30" text-anchor="start" font-size="29" font-weight="normal" >,</text>
<text x="463.10" y="364.30" text-anchor="start" font-size="29" font-weight="normal" font-style="italic">j</text>
<path d="M476.50,342.90 L478.70,343.50 L473.60,350.90 L472.50,350.40 Z" fill="#000"/>
<text x="487.10" y="364.30" text-anchor="start" font-size="29" font-weight="normal" >)</text>
<text x="504.90" y="364.30" text-anchor="start" font-size="29" font-weight="normal" >=</text>
<text x="529.90" y="364.30" font-size="29" xml:space="preserve">(</text>
<path d="M550.29,364.30 L550.29,343.91 L548.49,343.91 C548.14,345.74 546.66,347.19 543.91,347.39 L542.49,347.48 L542.49,349.28 L547.74,349.28 L547.74,364.30 Z" fill="#000"/>
<text x="555.69" y="364.30" font-size="29" xml:space="preserve">, 7)</text>
<text x="1049.10" y="361.90" text-anchor="start" font-size="29" font-weight="normal" >(</text>
<text x="1060.90" y="361.90" text-anchor="start" font-size="29" font-weight="normal" font-style="italic">v</text>
<path d="M1082.10,340.50 L1084.30,341.10 L1079.20,348.50 L1078.10,348.00 Z" fill="#000"/>
<text x="1092.10" y="361.90" text-anchor="start" font-size="29" font-weight="normal" >,</text>
<text x="1110.30" y="361.90" text-anchor="start" font-size="29" font-weight="normal" font-style="italic">j</text>
<path d="M1123.70,340.50 L1125.90,341.10 L1120.80,348.50 L1119.70,348.00 Z" fill="#000"/>
<text x="1134.30" y="361.90" text-anchor="start" font-size="29" font-weight="normal" >)</text>
<text x="1152.10" y="361.90" text-anchor="start" font-size="29" font-weight="normal" >=</text>
<text x="1177.10" y="361.90" text-anchor="start" font-size="29" font-weight="normal" >(2, 3)</text>
<line x1="413.60" y1="134.45" x2="472.00" y2="134.45" stroke="#0000ff" stroke-width="3.9" stroke-linecap="round"/>
<line x1="413.60" y1="170.45" x2="472.00" y2="170.45" stroke="#ff0000" stroke-width="3.9" stroke-linecap="round"/>
<text x="479.70" y="144.00" font-size="29" xml:space="preserve">Path </text>
<path d="M558.14,144.00 L558.14,123.61 L556.35,123.61 C556.00,125.44 554.52,126.89 551.76,127.09 L550.34,127.18 L550.34,128.98 L555.59,128.98 L555.59,144.00 Z" fill="#000"/>
<text x="479.70" y="180.00" font-size="29" xml:space="preserve">Path 2 (x</text>
<path d="M606.49,180.00 L606.49,159.61 L604.69,159.61 C604.34,161.44 602.86,162.89 600.11,163.09 L598.69,163.18 L598.69,164.98 L603.93,164.98 L603.93,180.00 Z" fill="#000"/>
<text x="611.89" y="180.00" font-size="29" xml:space="preserve">00)</text>
<line x1="1077.80" y1="147.75" x2="1136.20" y2="147.75" stroke="#0000ff" stroke-width="3.9" stroke-linecap="round"/>
<line x1="1077.80" y1="183.55" x2="1136.20" y2="183.55" stroke="#ff0000" stroke-width="3.9" stroke-linecap="round"/>
<text x="1144.90" y="157.40" font-size="29" xml:space="preserve">Path </text>
<path d="M1223.34,157.40 L1223.34,137.01 L1221.55,137.01 C1221.20,138.84 1219.72,140.29 1216.96,140.49 L1215.54,140.58 L1215.54,142.38 L1220.79,142.38 L1220.79,157.40 Z" fill="#000"/>
<text x="1144.90" y="193.30" font-size="29" xml:space="preserve">Path 2 (x</text>
<path d="M1271.69,193.30 L1271.69,172.91 L1269.89,172.91 C1269.54,174.74 1268.06,176.19 1265.31,176.39 L1263.89,176.48 L1263.89,178.28 L1269.13,178.28 L1269.13,193.30 Z" fill="#000"/>
<text x="1277.09" y="193.30" font-size="29" xml:space="preserve">0)</text>
<line x1="433.60" y1="423.95" x2="491.10" y2="423.95" stroke="#0000ff" stroke-width="3.9" stroke-linecap="round"/>
<line x1="433.60" y1="459.55" x2="491.10" y2="459.55" stroke="#ff0000" stroke-width="3.9" stroke-linecap="round"/>
<text x="499.60" y="432.90" font-size="29" xml:space="preserve">Path </text>
<path d="M578.04,432.90 L578.04,412.51 L576.25,412.51 C575.90,414.34 574.42,415.79 571.66,415.99 L570.24,416.08 L570.24,417.88 L575.49,417.88 L575.49,432.90 Z" fill="#000"/>
<text x="499.60" y="468.30" font-size="29" xml:space="preserve">Path 2 (x</text>
<path d="M626.39,468.30 L626.39,447.91 L624.59,447.91 C624.24,449.74 622.76,451.19 620.01,451.39 L618.59,451.48 L618.59,453.28 L623.83,453.28 L623.83,468.30 Z" fill="#000"/>
<text x="631.79" y="468.30" font-size="29" xml:space="preserve">0)</text>
<line x1="1080.00" y1="420.25" x2="1137.90" y2="420.25" stroke="#0000ff" stroke-width="3.9" stroke-linecap="round"/>
<line x1="1080.00" y1="456.25" x2="1137.90" y2="456.25" stroke="#ff0000" stroke-width="3.9" stroke-linecap="round"/>
<text x="1146.00" y="429.70" font-size="29" xml:space="preserve">Path </text>
<path d="M1224.44,429.70 L1224.44,409.31 L1222.65,409.31 C1222.30,411.14 1220.82,412.59 1218.06,412.79 L1216.64,412.88 L1216.64,414.68 L1221.89,414.68 L1221.89,429.70 Z" fill="#000"/>
<text x="1146.00" y="465.50" font-size="29" xml:space="preserve">Path 2 (x</text>
<path d="M1272.79,465.50 L1272.79,445.11 L1270.99,445.11 C1270.64,446.94 1269.16,448.39 1266.41,448.59 L1264.99,448.68 L1264.99,450.48 L1270.23,450.48 L1270.23,465.50 Z" fill="#000"/>
<text x="1278.19" y="465.50" font-size="29" xml:space="preserve">0)</text>
<text x="385.80" y="693.30" text-anchor="middle" font-size="29.3" font-weight="normal" >Scattering angle (degree)</text>
<text x="1060.00" y="693.30" text-anchor="middle" font-size="29.3" font-weight="normal" >Scattering angle (degree)</text>
<text transform="translate(22.3,307) rotate(-90)" text-anchor="middle" font-size="29">DCS (arb.units)</text>
</svg>
</body></html>
